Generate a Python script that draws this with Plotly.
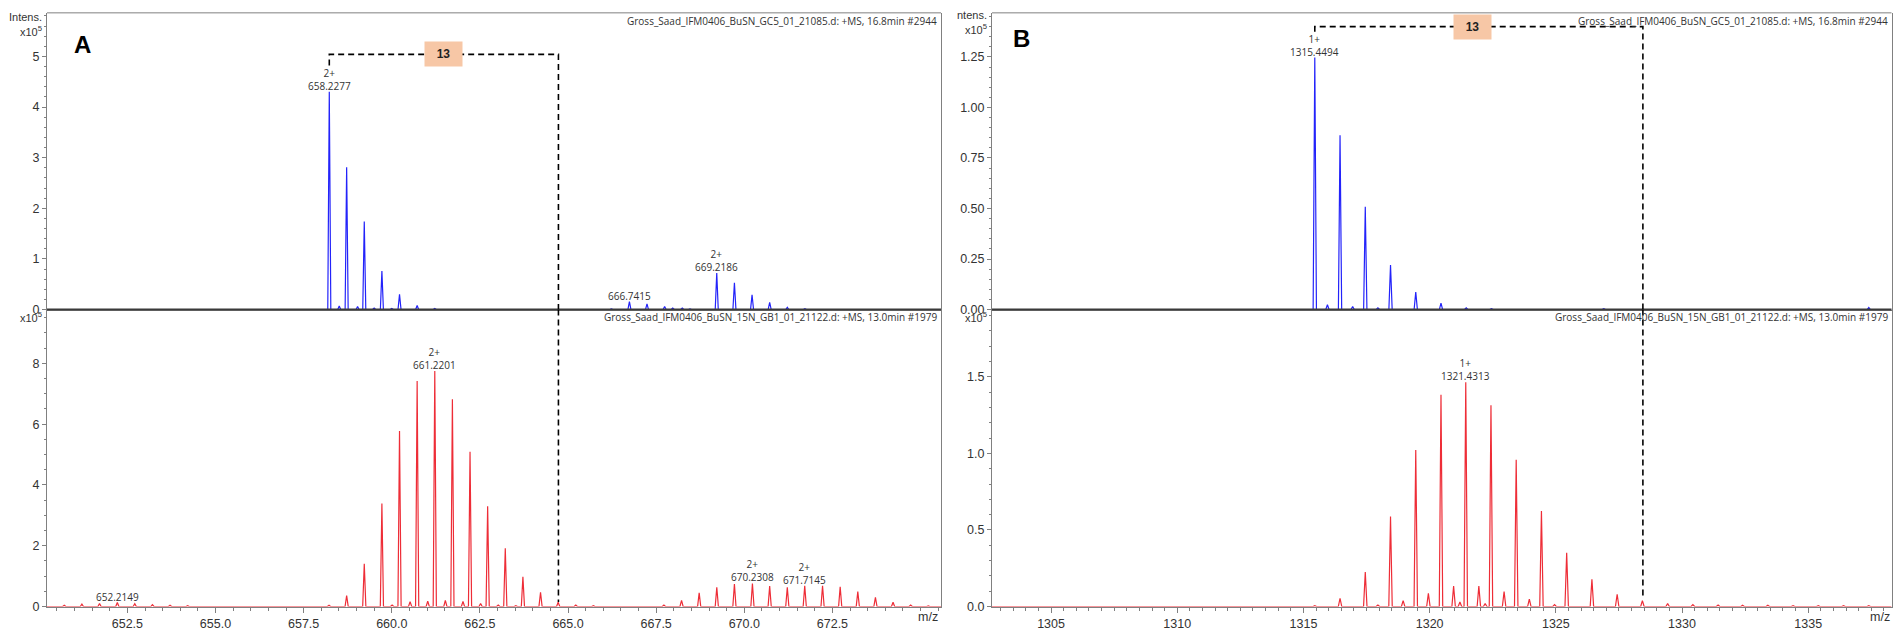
import plotly.graph_objects as go

# ---------------- spectra (intensity in units of 1e5) ----------------
# Panel A, 14N sample (blue)
a14_mz = [658.00, 658.2277, 658.51, 658.72, 659.03, 659.22, 659.50, 659.72, 660.00,
          660.22, 660.72, 661.22, 661.72, 664.10, 664.35, 666.23, 666.7415, 667.24,
          667.74, 667.97, 668.24, 668.46, 668.73, 669.2186, 669.72, 670.22, 670.72,
          671.22, 671.72]
a14_int = [0.01, 4.30, 0.07, 2.81, 0.06, 1.74, 0.03, 0.76, 0.02,
           0.30, 0.08, 0.02, 0.006, 0.005, 0.005, 0.012, 0.156, 0.11,
           0.06, 0.03, 0.03, 0.012, 0.01, 0.72, 0.53, 0.29, 0.14,
           0.045, 0.015]

# Panel A, 15N sample (red)
a15_mz = [650.71, 651.21, 651.71, 652.2149, 652.71, 653.21, 653.71, 654.21, 654.71,
          655.21, 655.71, 656.21, 657.71, 658.22, 658.72, 659.22, 659.72, 660.01,
          660.22, 660.52, 660.72, 661.02, 661.2201, 661.52, 661.72, 662.02, 662.22,
          662.52, 662.72, 663.02, 663.22, 663.52, 663.72, 664.22, 664.72, 665.22,
          665.72, 666.22, 666.72, 667.22, 667.72, 668.22, 668.72, 669.22, 669.72,
          670.2308, 670.72, 671.22, 671.7145, 672.22, 672.72, 673.22, 673.72, 674.22,
          674.72, 675.22]
a15_int = [0.04, 0.08, 0.10, 0.13, 0.09, 0.06, 0.04, 0.025, 0.015,
           0.01, 0.008, 0.005, 0.01, 0.04, 0.36, 1.41, 3.39, 0.05,
           5.77, 0.16, 7.42, 0.18, 7.75, 0.20, 6.82, 0.17, 5.09,
           0.10, 3.30, 0.05, 1.92, 0.03, 0.98, 0.47, 0.14, 0.05,
           0.03, 0.02, 0.02, 0.02, 0.05, 0.20, 0.45, 0.63, 0.74,
           0.76, 0.67, 0.63, 0.68, 0.68, 0.65, 0.49, 0.30, 0.14,
           0.05, 0.02]

# Panel B, 14N sample (blue)
b14_mz = [1315.4494, 1315.95, 1316.45, 1316.95, 1317.45, 1317.95, 1318.45, 1319.45,
          1320.45, 1321.45, 1322.45, 1326.90, 1337.40]
b14_int = [1.247, 0.024, 0.862, 0.015, 0.509, 0.008, 0.22, 0.086,
           0.032, 0.008, 0.004, 0.004, 0.01]

# Panel B, 15N sample (red)
b15_mz = [1315.45, 1316.45, 1317.45, 1317.95, 1318.45, 1318.95, 1319.45, 1319.95,
          1320.45, 1320.95, 1321.20, 1321.4313, 1321.95, 1322.20, 1322.43, 1322.95,
          1323.43, 1323.95, 1324.43, 1324.95, 1325.43, 1326.43, 1327.43, 1328.43,
          1329.43, 1330.43, 1331.43, 1332.40, 1333.40, 1334.40, 1335.40, 1336.40,
          1337.40]
b15_int = [0.006, 0.054, 0.226, 0.01, 0.588, 0.039, 1.023, 0.086,
           1.383, 0.133, 0.03, 1.465, 0.133, 0.02, 1.314, 0.097,
           0.959, 0.049, 0.624, 0.012, 0.351, 0.178, 0.08, 0.039,
           0.02, 0.012, 0.01, 0.008, 0.008, 0.006, 0.006, 0.005,
           0.005]

# labelled peaks: (m/z, charge text)
a14_labels = [(658.2277, "2+"), (666.7415, ""), (669.2186, "2+")]
a15_labels = [(652.2149, ""), (661.2201, "2+"), (670.2308, "2+"), (671.7145, "2+")]
b14_labels = [(1315.4494, "1+")]
b15_labels = [(1321.4313, "1+")]

# x tick labels
a_ticks = [652.5, 655.0, 657.5, 660.0, 662.5, 665.0, 667.5, 670.0, 672.5]
b_ticks = [1305, 1310, 1315, 1320, 1325, 1330, 1335]

# mass shift between the labelled monoisotopic peaks (13 nitrogens)
shift_label = "13"
a_pair = (658.2277, 2)      # (m/z, charge)
b_pair = (1315.4494, 1)
n_shift = 13

title_14 = "Gross_Saad_IFM0406_BuSN_GC5_01_21085.d: +MS, 16.8min #2944"
title_15 = "Gross_Saad_IFM0406_BuSN_15N_GB1_01_21122.d: +MS, 13.0min #1979"

a_range = [650.22, 675.58]
b_range = [1302.66, 1338.30]
yr = {"y": [0, 5.86], "y2": [0, 9.77], "y3": [0, 1.468], "y4": [0, 1.94]}

W, H = 1894, 633
BLUE = "rgb(35,35,250)"
RED = "rgb(238,45,55)"
TXT = "#333333"
AXC = "#808080"


def profile(mz, inten, half, lo, hi):
    xs, ys = [lo], [0]
    for m, h in sorted(zip(mz, inten)):
        xs += [m - half, m, m + half]
        ys += [0, h, 0]
    xs.append(hi)
    ys.append(0)
    return xs, ys


def px(x):
    return x / W


def py(y):
    return 1 - y / H


fig = go.Figure()

series = [
    (a14_mz, a14_int, 0.043, a_range, BLUE, "x", "y"),
    (a15_mz, a15_int, 0.045, a_range, RED, "x2", "y2"),
    (b14_mz, b14_int, 0.065, b_range, BLUE, "x3", "y3"),
    (b15_mz, b15_int, 0.068, b_range, RED, "x4", "y4"),
]
for mz, it, half, rng, col, xa, ya in series:
    xs, ys = profile(mz, it, half, rng[0], rng[1])
    fig.add_trace(go.Scatter(x=xs, y=ys, mode="lines", xaxis=xa, yaxis=ya,
                             line=dict(color=col, width=1.2), hoverinfo="skip",
                             showlegend=False))

# ---------------- axes ----------------
xa_dom = [px(47), px(941)]
xb_dom = [px(992), px(1891.5)]
top_dom = [py(313), py(13)]
bot_dom = [py(613.3), py(313)]

tick_font = dict(family="Liberation Sans, Arial", size=12.5, color=TXT)


def xaxis(dom, rng, anchor, bottom, ticks, minor, fmt):
    d = dict(domain=dom, range=rng, anchor=anchor, showgrid=False, zeroline=False,
             showline=True, linecolor=AXC, linewidth=1, mirror=False)
    if bottom:
        d.update(ticks="outside", ticklen=5, tickcolor=AXC, tickwidth=1,
                 tickmode="array", tickvals=ticks,
                 ticktext=[format(t, fmt) for t in ticks], tickfont=tick_font,
                 minor=dict(dtick=minor, tick0=0, ticks="outside", ticklen=3,
                            tickcolor=AXC))
    else:
        d.update(showticklabels=False, ticks="")
    return d


def yaxis(dom, rng, anchor, dtick, minor, fmt):
    return dict(domain=dom, range=rng, anchor=anchor, showgrid=False, zeroline=False,
                showline=True, linecolor=AXC, linewidth=1, mirror=True,
                ticks="outside", ticklen=4, tickcolor=AXC, dtick=dtick, tick0=0,
                tickformat=fmt, tickfont=tick_font,
                minor=dict(dtick=minor, tick0=0, ticks="outside", ticklen=2,
                           tickcolor=AXC))


fig.update_layout(
    xaxis=xaxis(xa_dom, a_range, "y", False, a_ticks, 0.5, ".1f"),
    xaxis2=xaxis(xa_dom, a_range, "y2", True, a_ticks, 0.5, ".1f"),
    xaxis3=xaxis(xb_dom, b_range, "y3", False, b_ticks, 0.5, "d"),
    xaxis4=xaxis(xb_dom, b_range, "y4", True, b_ticks, 0.5, "d"),
    yaxis=yaxis(top_dom, yr["y"], "x", 1, 0.2, "d"),
    yaxis2=yaxis(bot_dom, yr["y2"], "x2", 2, 0.5, "d"),
    yaxis3=yaxis(top_dom, yr["y3"], "x3", 0.25, 0.05, ".2f"),
    yaxis4=yaxis(bot_dom, yr["y4"], "x4", 0.5, 0.1, ".1f"),
)

shapes = []
ann = []

# frame: grey top border, dark divider between the two spectra
for dom in (xa_dom, xb_dom):
    shapes.append(dict(type="line", xref="paper", yref="paper", x0=dom[0], x1=dom[1],
                       y0=top_dom[1], y1=top_dom[1], line=dict(color=AXC, width=1)))
    shapes.append(dict(type="line", xref="paper", yref="paper", x0=dom[0], x1=dom[1],
                       y0=top_dom[0], y1=top_dom[0], line=dict(color="#3a3a3a", width=2)))

# dashed connector between the 14N and 15N monoisotopic peaks
dash = dict(color="black", width=1.6, dash="6px,4px")
for (m0, z), xt, yt, xb, yb, ylev, ystart, yend, box_frac in (
        (a_pair, "x", "y", "x2", "y2", 5.04, 4.82, 0.15, 0.5),
        (b_pair, "x3", "y3", "x4", "y4", 1.40, 1.375, 0.07, 0.48)):
    m1 = m0 + n_shift / z
    shapes.append(dict(type="path", xref=xt, yref=yt,
                       path=f"M {m0},{ystart} L {m0},{ylev} L {m1},{ylev} L {m1},0",
                       line=dash))
    shapes.append(dict(type="line", xref=xb, yref=yb, x0=m1, x1=m1,
                       y0=yr[yb][1], y1=yend, line=dash))
    ann.append(dict(xref=xt, yref=yt, x=m0 + box_frac * (m1 - m0), y=ylev,
                    text=f"<b>{shift_label}</b>",
                    showarrow=False, bgcolor="#F7C7A6", width=37, height=24,
                    borderpad=0, font=dict(family="Liberation Sans, Arial", size=12,
                                           color="#222")))

# peak labels
lab_font = dict(family="Open Sans", size=10, color=TXT)
for labels, mz, it, xa, ya in ((a14_labels, a14_mz, a14_int, "x", "y"),
                               (a15_labels, a15_mz, a15_int, "x2", "y2"),
                               (b14_labels, b14_mz, b14_int, "x3", "y3"),
                               (b15_labels, b15_mz, b15_int, "x4", "y4")):
    lookup = dict(zip(mz, it))
    for m, ch in labels:
        txt = f"{ch}<br>{m:.4f}" if ch else f"{m:.4f}"
        ann.append(dict(xref=xa, yref=ya, x=m, y=lookup[m], text=txt, showarrow=False,
                        xanchor="center", yanchor="bottom", yshift=-3, font=lab_font))

# file headers
hdr_font = dict(family="Open Sans", size=10, color=TXT)
for dom in (xa_dom, xb_dom):
    ann.append(dict(xref="paper", yref="paper", x=dom[1] - px(2), y=py(21), text=title_14,
                    showarrow=False, xanchor="right", yanchor="middle", font=hdr_font))
    ann.append(dict(xref="paper", yref="paper", x=dom[1] - px(2), y=py(321), text=title_15,
                    showarrow=False, xanchor="right", yanchor="middle", font=hdr_font))

# axis captions
cap_font = dict(family="Liberation Sans, Arial", size=11, color=TXT)
for xr, top_txt, yoff in ((44, "Intens.", 0), (989, "ntens.", -2)):
    ann.append(dict(xref="paper", yref="paper", x=px(xr), y=py(17 + yoff), text=top_txt,
                    showarrow=False, xanchor="right", yanchor="middle", font=cap_font))
    ann.append(dict(xref="paper", yref="paper", x=px(xr), y=py(31 + yoff),
                    text="x10<sup>5</sup>",
                    showarrow=False, xanchor="right", yanchor="middle", font=cap_font))
    ann.append(dict(xref="paper", yref="paper", x=px(xr), y=py(321), text="x10<sup>5</sup>",
                    showarrow=False, xanchor="right", yanchor="middle", font=cap_font))
for xr in (928, 1880):
    ann.append(dict(xref="paper", yref="paper", x=px(xr), y=py(624), text="m/z",
                    showarrow=False, xanchor="center", yanchor="middle", font=tick_font))

# panel letters
for (xc, yc), letter in (((82, 45), "A"), ((1021.5, 39), "B")):
    ann.append(dict(xref="paper", yref="paper", x=px(xc), y=py(yc), text=f"<b>{letter}</b>",
                    showarrow=False, xanchor="center", yanchor="middle",
                    font=dict(family="Liberation Sans, Arial", size=24, color="black")))

fig.update_layout(width=W, height=H, margin=dict(l=0, r=0, t=0, b=0),
                  paper_bgcolor="white", plot_bgcolor="white",
                  shapes=shapes, annotations=ann, showlegend=False)

fig.write_html("out.html")
